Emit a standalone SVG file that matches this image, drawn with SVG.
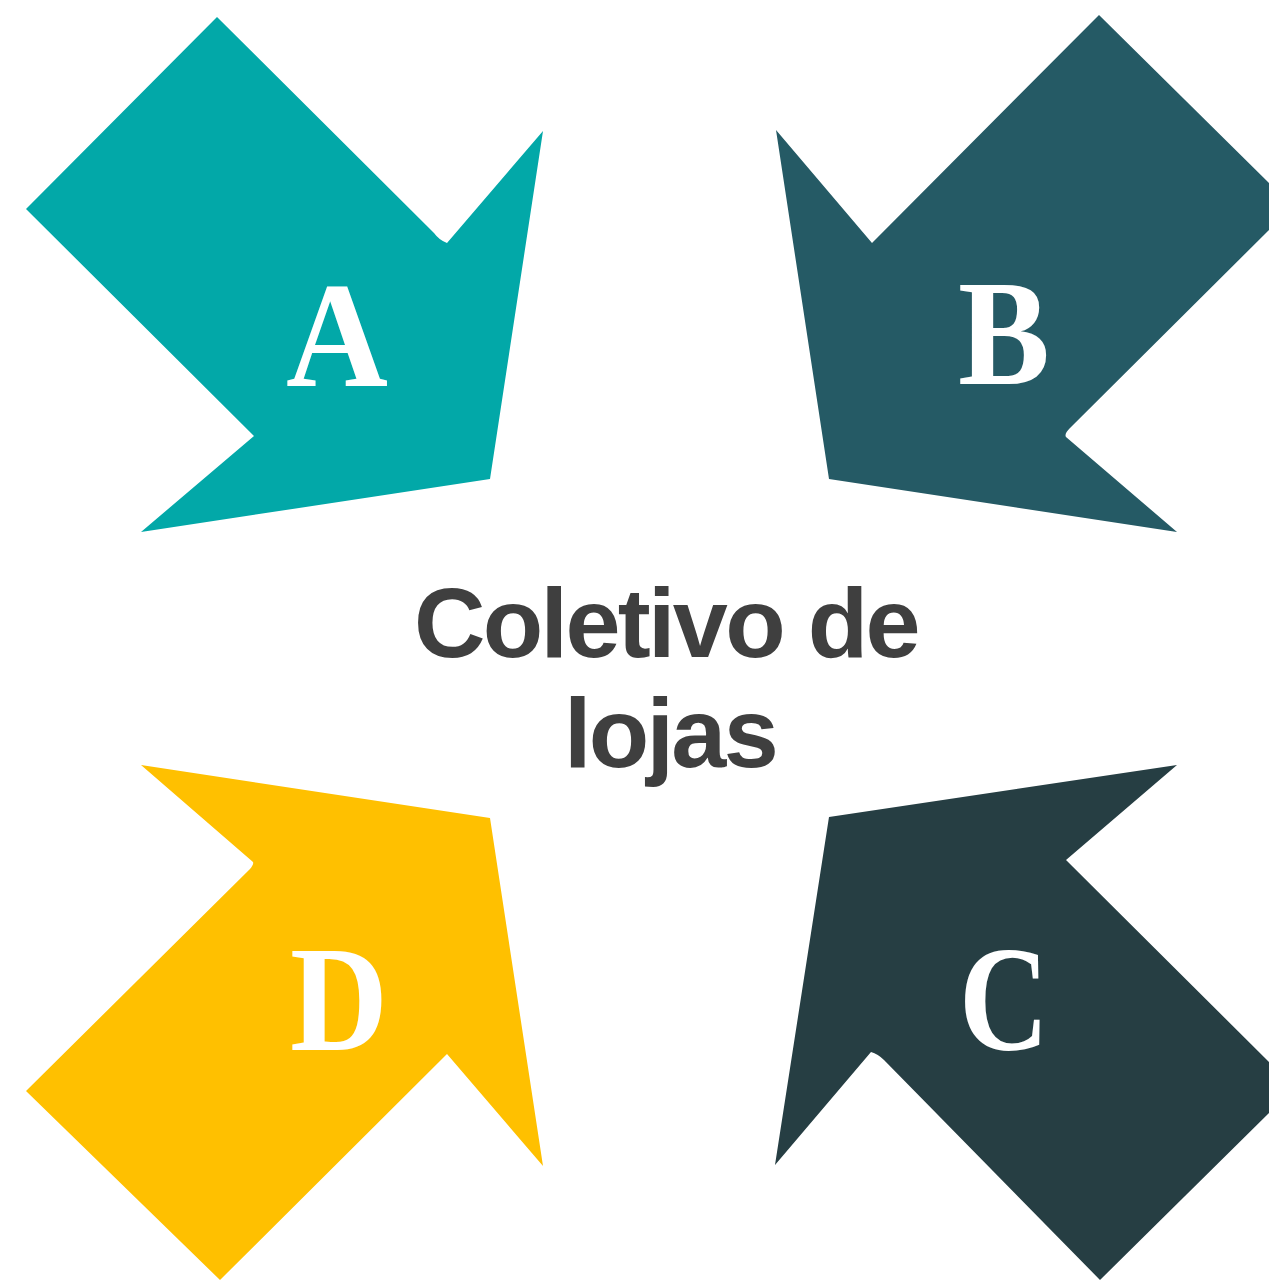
<svg xmlns="http://www.w3.org/2000/svg" width="1269" height="1280" viewBox="0 0 1269 1280">
<style>
.letter{font-family:"Liberation Serif","DejaVu Serif",serif;font-weight:bold;font-size:150px;fill:#FFFFFF;text-anchor:middle}
.title{font-family:"Liberation Sans",Arial,sans-serif;font-weight:bold;font-size:99px;fill:#3F3F3F;text-anchor:middle;letter-spacing:-2.7px}
</style>
<rect width="1269" height="1280" fill="#FFFFFF"/>
<g id="arrow-A">
<path d="M217,17 L26,209 L254,436 L141,532 L490,479 L543,131 L447,243 Q439,240 434,233 Z" fill="#02A8A8"/>
<text class="letter" x="337" y="386" textLength="102" lengthAdjust="spacingAndGlyphs">A</text>
</g>
<g id="arrow-B">
<path d="M1099,15 L1269,183 L1269,230 L1070,428 Q1064,434 1066,437 L1177,532 L829,479 L776,130 L872,243 Z" fill="#255A65"/>
<text class="letter" x="1004" y="384" textLength="92" lengthAdjust="spacingAndGlyphs">B</text>
</g>
<g id="arrow-C">
<path d="M1100,1280 L1269,1113 L1269,1062 L1066,860 L1177,765 L829,817 L775,1165 L871,1052 Q878,1054 884,1060 Z" fill="#263E43"/>
<text class="letter" x="1004" y="1050" textLength="90" lengthAdjust="spacingAndGlyphs">C</text>
</g>
<g id="arrow-D">
<path d="M220,1280 L26,1091 L250,869 Q254,864 253,862 L141,765 L490,818 L543,1166 L447,1054 Z" fill="#FFC000"/>
<text class="letter" x="339" y="1050" textLength="98" lengthAdjust="spacingAndGlyphs">D</text>
</g>
<g id="center-label">
<text class="title" x="666" y="657">Coletivo de</text>
<text class="title" x="670" y="767">lojas</text>
</g>
<g id="connectors"></g>
</svg>
